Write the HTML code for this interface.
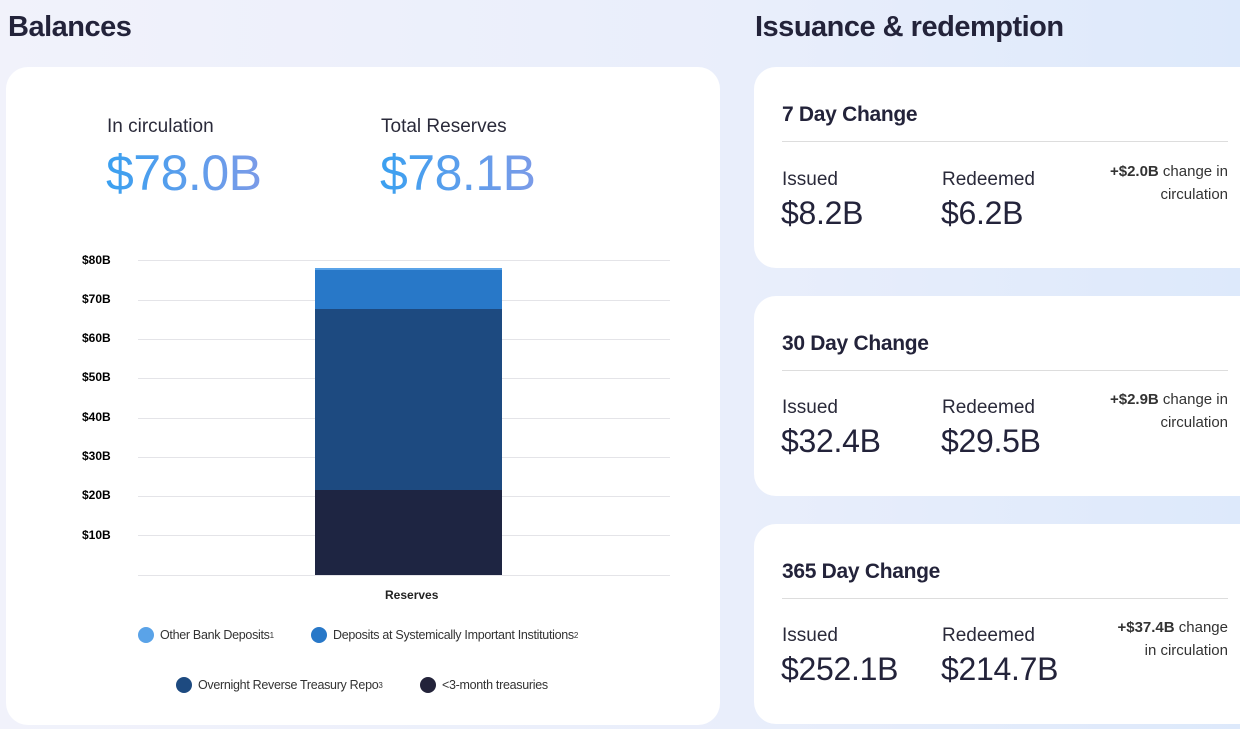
<!DOCTYPE html>
<html><head><meta charset="utf-8"><style>
*{margin:0;padding:0;box-sizing:border-box}
body{width:1240px;height:729px;overflow:hidden;font-family:"Liberation Sans",sans-serif;background:linear-gradient(90deg,#f1f2fb 0%,#e9eefb 60%,#dde9fb 100%);position:relative;color:#1f1f33}
.abs{position:absolute}
h1{position:absolute;font-size:29px;font-weight:bold;color:#23233a;letter-spacing:-0.5px}
.card{position:absolute;background:#fff;border-radius:22px}
.lbl{font-size:19px;color:#2a2a3a}
.big{font-size:50px;font-weight:300;letter-spacing:-0.5px;background:linear-gradient(90deg,#3aa0f0,#7b9be8);-webkit-background-clip:text;color:transparent}
.tick{position:absolute;left:82px;font-size:12px;font-weight:bold;color:#000}
.grid{position:absolute;left:138px;width:532px;height:1px;background:#e4e4e8}
.leg{position:absolute;font-size:12.5px;color:#333;letter-spacing:-0.3px;display:flex;align-items:center}
.dot{width:16px;height:16px;border-radius:50%;margin-right:6px}
sup{font-size:8px}
.ct{font-size:21px;font-weight:bold;color:#23233a;letter-spacing:-0.3px}
.hr{position:absolute;left:28px;height:1px;background:#ddd}
.v{font-size:32px;font-weight:300;color:#23233a;letter-spacing:-0.3px}
.chg{position:absolute;text-align:right;font-size:15px;line-height:23px;color:#333}
</style></head><body>
<h1 style="left:8px;top:11px">Balances</h1>
<h1 style="left:755px;top:11px">Issuance &amp; redemption</h1>
<div class="card" style="left:6px;top:67px;width:714px;height:658px"></div>
<div class="abs lbl" style="left:107px;top:116px">In circulation</div>
<div class="abs big" style="left:106px;top:144px">$78.0B</div>
<div class="abs lbl" style="left:381px;top:116px">Total Reserves</div>
<div class="abs big" style="left:380px;top:144px">$78.1B</div>
<div class="grid" style="top:260px"></div><div class="grid" style="top:300px"></div><div class="grid" style="top:339px"></div><div class="grid" style="top:378px"></div><div class="grid" style="top:418px"></div><div class="grid" style="top:457px"></div><div class="grid" style="top:496px"></div><div class="grid" style="top:535px"></div><div class="grid" style="top:575px"></div>
<div class="tick" style="top:253px">$80B</div><div class="tick" style="top:292px">$70B</div><div class="tick" style="top:331px">$60B</div><div class="tick" style="top:370px">$50B</div><div class="tick" style="top:410px">$40B</div><div class="tick" style="top:449px">$30B</div><div class="tick" style="top:488px">$20B</div><div class="tick" style="top:528px">$10B</div>
<div class="abs" style="left:315px;top:268px;width:187px;height:2px;background:#5aa3e8"></div>
<div class="abs" style="left:315px;top:270px;width:187px;height:39px;background:#2878c8"></div>
<div class="abs" style="left:315px;top:309px;width:187px;height:181px;background:#1d4a80"></div>
<div class="abs" style="left:315px;top:490px;width:187px;height:85px;background:#1e2542"></div>
<div class="abs" style="left:385px;top:588px;font-size:12px;font-weight:bold;color:#222">Reserves</div>
<div class="leg" style="left:138px;top:627px"><div class="dot" style="background:#5aa3e8"></div>Other Bank Deposits<sup>1</sup></div>
<div class="leg" style="left:311px;top:627px"><div class="dot" style="background:#2878c8"></div>Deposits at Systemically Important Institutions<sup>2</sup></div>
<div class="leg" style="left:176px;top:677px"><div class="dot" style="background:#1d4a80"></div>Overnight Reverse Treasury Repo<sup>3</sup></div>
<div class="leg" style="left:420px;top:677px"><div class="dot" style="background:#23233a"></div>&lt;3-month treasuries</div>

<div class="card" style="left:754px;top:67px;width:510px;height:201px">
<div class="abs ct" style="left:28px;top:36px">7 Day Change</div><div class="hr" style="top:74px;width:446px"></div>
<div class="abs lbl" style="left:28px;top:102px">Issued</div><div class="abs v" style="left:27px;top:128px">$8.2B</div>
<div class="abs lbl" style="left:188px;top:102px">Redeemed</div><div class="abs v" style="left:187px;top:128px">$6.2B</div>
<div class="chg" style="right:36px;top:93px"><b>+$2.0B</b> change in<br>circulation</div></div>
<div class="card" style="left:754px;top:296px;width:510px;height:200px">
<div class="abs ct" style="left:28px;top:36px">30 Day Change</div><div class="hr" style="top:74px;width:446px"></div>
<div class="abs lbl" style="left:28px;top:101px">Issued</div><div class="abs v" style="left:27px;top:127px">$32.4B</div>
<div class="abs lbl" style="left:188px;top:101px">Redeemed</div><div class="abs v" style="left:187px;top:127px">$29.5B</div>
<div class="chg" style="right:36px;top:92px"><b>+$2.9B</b> change in<br>circulation</div></div>
<div class="card" style="left:754px;top:524px;width:510px;height:200px">
<div class="abs ct" style="left:28px;top:36px">365 Day Change</div><div class="hr" style="top:74px;width:446px"></div>
<div class="abs lbl" style="left:28px;top:101px">Issued</div><div class="abs v" style="left:27px;top:127px">$252.1B</div>
<div class="abs lbl" style="left:188px;top:101px">Redeemed</div><div class="abs v" style="left:187px;top:127px">$214.7B</div>
<div class="chg" style="right:36px;top:92px"><b>+$37.4B</b> change<br>in circulation</div></div>
</body></html>
